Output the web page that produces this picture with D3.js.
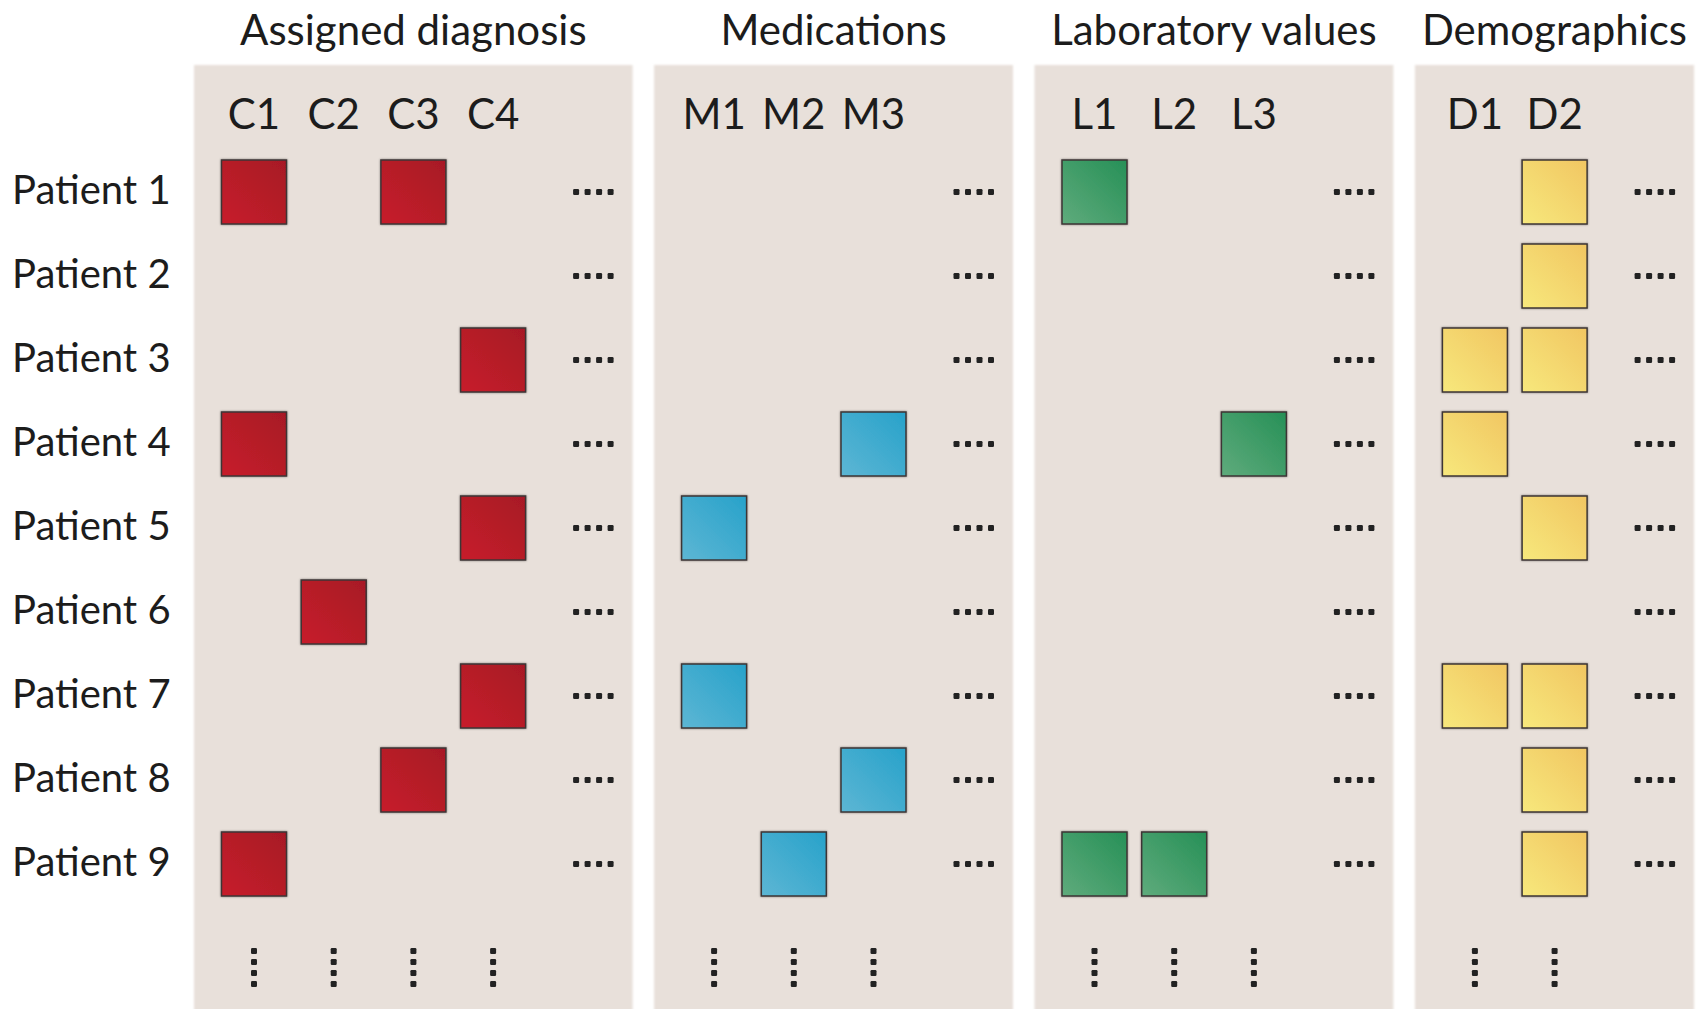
<!DOCTYPE html>
<html>
<head>
<meta charset="utf-8">
<script src="https://cdn.jsdelivr.net/npm/d3@7"></script>
<style>
  html, body { margin: 0; padding: 0; background: #fff; overflow: hidden; }
  text { font-family: Lato, "Open Sans", sans-serif; fill: #1c1c1c; }
</style>
</head>
<body>
<div id="vis"></div>
<script>
// rows
var patients = ["Patient 1", "Patient 2", "Patient 3", "Patient 4", "Patient 5",
                "Patient 6", "Patient 7", "Patient 8", "Patient 9"];

// column groups
var groupTitles = ["Assigned diagnosis", "Medications", "Laboratory values", "Demographics"];
var diagnosisCols = ["C1", "C2", "C3", "C4"];
var medicationCols = ["M1", "M2", "M3"];
var labCols = ["L1", "L2", "L3"];
var demoCols = ["D1", "D2"];

// which columns are filled, one list per patient
var diagnosisHits = [["C1", "C3"], [], ["C4"], ["C1"], ["C4"], ["C2"], ["C4"], ["C3"], ["C1"]];
var medicationHits = [[], [], [], ["M3"], ["M1"], [], ["M1"], ["M3"], ["M2"]];
var labHits = [["L1"], [], [], ["L3"], [], [], [], [], ["L1", "L2"]];
var demoHits = [["D2"], ["D2"], ["D1", "D2"], ["D1"], ["D2"], [], ["D1", "D2"], ["D2"], ["D2"]];

var groupColors = [
  ["#c71f2b", "#a71925"],   // red
  ["#5db6d4", "#27a2ca"],   // blue
  ["#5fab7c", "#269057"],   // green
  ["#f7e87c", "#f1c662"]    // yellow
];

var width = 1707, height = 1009;

var svg = d3.select("#vis")
    .append("svg")
    .attr("width", width)
    .attr("height", height);

var defs = svg.append("defs");

groupColors.forEach(function(c, i) {
  var g = defs.append("linearGradient")
      .attr("id", "grad" + i)
      .attr("x1", 0).attr("y1", 1)
      .attr("x2", 1).attr("y2", 0);
  g.append("stop").attr("offset", "0%").attr("stop-color", c[0]);
  g.append("stop").attr("offset", "100%").attr("stop-color", c[1]);
});

var shadow = defs.append("filter").attr("id", "halo")
    .attr("x", "-10%").attr("y", "-10%").attr("width", "120%").attr("height", "120%");
shadow.append("feDropShadow")
    .attr("dx", 0).attr("dy", 0)
    .attr("stdDeviation", 1.3)
    .attr("flood-color", "#000")
    .attr("flood-opacity", 0.45);

var panelSoft = defs.append("filter").attr("id", "soft");
panelSoft.append("feGaussianBlur").attr("stdDeviation", 0.8);

////////// layout //////////

var groups = [
  {title: groupTitles[0], cols: diagnosisCols, hits: diagnosisHits},
  {title: groupTitles[1], cols: medicationCols, hits: medicationHits},
  {title: groupTitles[2], cols: labCols, hits: labHits},
  {title: groupTitles[3], cols: demoCols, hits: demoHits}
];

var colStep = 79.7,
    boxSize = 65,
    firstColOffset = 60,   // panel left -> first column centre
    panelTail = 139.5,     // last column centre -> panel right
    panelGap = 21.5,
    panelTop = 65;

var left = 194;
groups.forEach(function(g) {
  g.x0 = left;
  g.x = d3.scaleLinear()
      .domain([0, 1])
      .range([left + firstColOffset, left + firstColOffset + colStep]);
  g.x1 = g.x(g.cols.length - 1) + panelTail;
  left = g.x1 + panelGap;
});

var y = d3.scalePoint()
    .domain(patients)
    .range([192, 864]);

var rowStep = y.step();

////////// draw //////////

// row labels
svg.append("g").selectAll("text")
    .data(patients)
    .enter()
    .append("text")
    .attr("x", 12)
    .attr("y", function(d) { return y(d) + 12; })
    .attr("font-size", 40)
    .text(function(d) { return d; });

groups.forEach(function(g, gi) {
  var panel = svg.append("g").attr("class", "panel");

  panel.append("rect")
      .attr("x", g.x0)
      .attr("y", panelTop)
      .attr("width", g.x1 - g.x0)
      .attr("height", height - panelTop + 5)
      .attr("fill", "#e8e0da")
      .attr("filter", "url(#soft)");

  // group title
  panel.append("text")
      .attr("x", (g.x0 + g.x1) / 2)
      .attr("y", 45)
      .attr("text-anchor", "middle")
      .attr("font-size", 42)
      .text(g.title);

  // column labels
  panel.selectAll("text.col")
      .data(g.cols)
      .enter()
      .append("text")
      .attr("class", "col")
      .attr("x", function(d, i) { return g.x(i); })
      .attr("y", 129)
      .attr("text-anchor", "middle")
      .attr("font-size", 42)
      .text(function(d) { return d; });

  // filled cells
  var cells = [];
  g.hits.forEach(function(list, pi) {
    list.forEach(function(c) {
      cells.push({patient: patients[pi], col: g.cols.indexOf(c)});
    });
  });

  panel.selectAll("rect.cell")
      .data(cells)
      .enter()
      .append("rect")
      .attr("class", "cell")
      .attr("x", function(d) { return g.x(d.col) - boxSize / 2; })
      .attr("y", function(d) { return y(d.patient) - boxSize / 2 + 0.5; })
      .attr("width", boxSize)
      .attr("height", boxSize - 1)
      .attr("fill", "url(#grad" + gi + ")")
      .attr("stroke", "#3d3535")
      .attr("stroke-width", 1.5)
      .attr("filter", "url(#halo)");

  // horizontal "...." after last column in each row
  var dotsX = g.x(g.cols.length - 1) + 100;
  patients.forEach(function(p) {
    panel.append("g")
        .selectAll("rect")
        .data([0, 1, 2, 3])
        .enter()
        .append("rect")
        .attr("x", function(k) { return dotsX - 20 + k * 11.5; })
        .attr("y", y(p) - 3)
        .attr("width", 6)
        .attr("height", 6)
        .attr("rx", 1.2)
        .attr("fill", "#222");
  });

  // vertical dots under each column
  var lastRow = y(patients[patients.length - 1]);
  g.cols.forEach(function(c, i) {
    panel.append("g")
        .selectAll("rect")
        .data([0, 1, 2, 3])
        .enter()
        .append("rect")
        .attr("x", g.x(i) - 3)
        .attr("y", function(k) { return lastRow + rowStep + k * 11; })
        .attr("width", 6)
        .attr("height", 6)
        .attr("rx", 1.2)
        .attr("fill", "#222");
  });
});
</script>
</body>
</html>
